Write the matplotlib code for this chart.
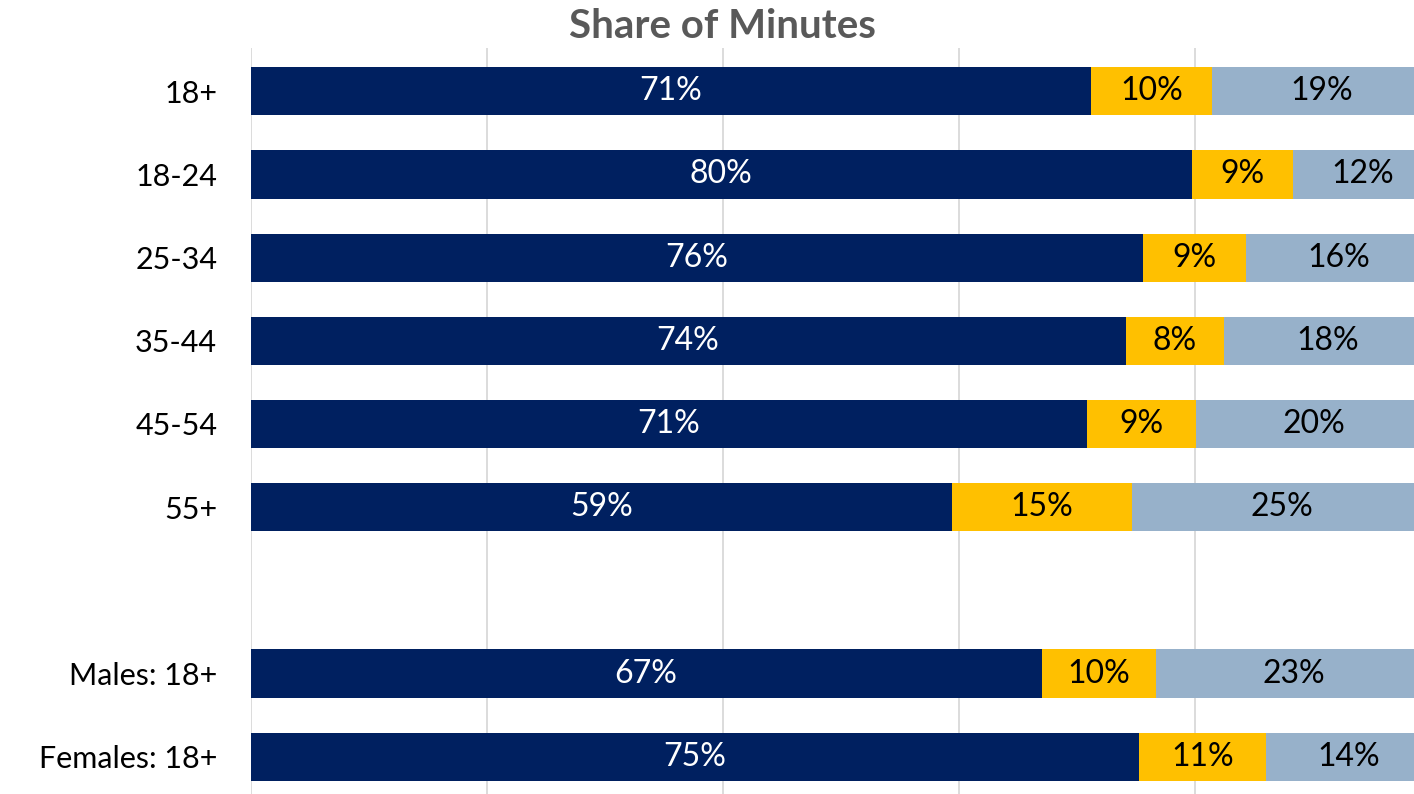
import matplotlib.pyplot as plt

nan = float("nan")

# share of minutes by demo (blank row separates age groups from gender)
categories = ["18+", "18-24", "25-34", "35-44", "45-54", "55+", "", "Males: 18+", "Females: 18+"]
dark_vals = [71.2, 79.7, 75.6, 74.1, 70.8, 59.4, nan, 67.0, 75.2]
yellow_vals = [10.2, 8.6, 8.7, 8.3, 9.3, 15.2, nan, 9.7, 10.8]
light_vals = [18.6, 11.7, 15.7, 17.6, 19.9, 25.4, nan, 23.3, 14.0]

c_dark = "#002060"
c_yellow = "#FFC000"
c_light = "#97B1CA"

plt.rcParams['font.family'] = ['Lato', 'DejaVu Sans']

fig = plt.figure(figsize=(14.14, 7.94), dpi=100)
# plot area runs a bit past the right/bottom edge, like the original screenshot
ax = fig.add_axes([250.5 / 1414, -6 / 794, 1181 / 1414, 752 / 794])

y = list(range(len(categories)))
h = 0.58
left2 = [a + b for a, b in zip(dark_vals, yellow_vals)]

ax.barh(y, dark_vals, height=h, color=c_dark, linewidth=0, zorder=3)
ax.barh(y, yellow_vals, left=dark_vals, height=h, color=c_yellow, linewidth=0, zorder=3)
ax.barh(y, light_vals, left=left2, height=h, color=c_light, linewidth=0, zorder=3)

for i in y:
    if categories[i] == "":
        continue
    d, yl, lt = dark_vals[i], yellow_vals[i], light_vals[i]
    ax.text(d / 2, i, "{:.0f}%".format(d), ha="center", va="center", color="white", fontsize=23, zorder=4)
    ax.text(d + yl / 2, i, "{:.0f}%".format(yl), ha="center", va="center", color="black", fontsize=23, zorder=4)
    ax.text(d + yl + lt / 2, i, "{:.0f}%".format(lt), ha="center", va="center", color="black", fontsize=23, zorder=4)

ax.set_xlim(0, 100)
ax.set_ylim(len(categories) - 0.48, -0.52)
ax.set_xticks([0, 20, 40, 60, 80, 100])
ax.set_xticklabels([])
ax.set_yticks(y)
ax.set_yticklabels(categories, fontsize=22)
ax.tick_params(axis="both", length=0)
ax.tick_params(axis="y", pad=24)
ax.grid(axis="x", color="#d9d9d9", linewidth=1.3, zorder=0)
for s in ax.spines.values():
    s.set_visible(False)

fig.text(722 / 1414, 1 - 27 / 794, "Share of Minutes", ha="center", va="center",
         fontsize=29, fontweight="bold", color="#595959")

fig.savefig("out.png", dpi=100)
